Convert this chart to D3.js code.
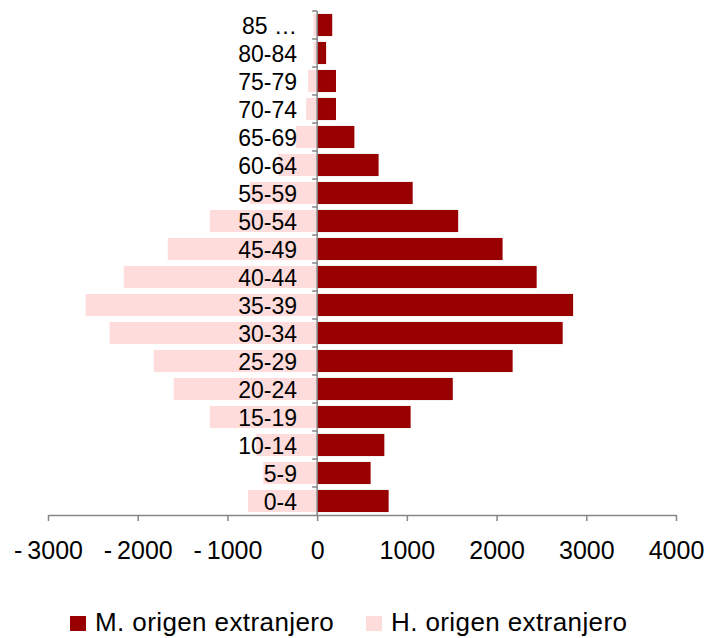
<!DOCTYPE html>
<html>
<head>
<meta charset="utf-8">
<script src="https://cdn.jsdelivr.net/npm/d3@7"></script>
<style>
  body { margin: 0; background: #fff; }
  text { font-family: "Liberation Sans", Arial, sans-serif; fill: #000; }
</style>
</head>
<body>
<div id="chart"></div>
<script>
// age groups, bottom to top
const ages = ["0-4", "5-9", "10-14", "15-19", "20-24", "25-29", "30-34", "35-39",
  "40-44", "45-49", "50-54", "55-59", "60-64", "65-69", "70-74", "75-79", "80-84", "85 …"];

// women of foreign origin (drawn to the right)
const mujeres = [797, 596, 749, 1042, 1512, 2179, 2737, 2853,
  2447, 2067, 1572, 1065, 685, 415, 210, 210, 100, 168];

// men of foreign origin (negative, drawn to the left)
const hombres = [-771, -600, -680, -1196, -1598, -1821, -2313, -2581,
  -2156, -1665, -1196, -750, -436, -235, -123, -100, -40, -40];

const xTicks = [-3000, -2000, -1000, 0, 1000, 2000, 3000, 4000];

const seriesNames = ["M. origen extranjero", "H. origen extranjero"];
const colors = ["#990000", "#ffdcdc"];

const width = 708;
const height = 638;

const svg = d3.select("#chart")
  .append("svg")
  .attr("width", width)
  .attr("height", height);

const x = d3.scaleLinear()
  .domain([-3000, 4000])
  .range([48, 676]);

const y = d3.scaleBand()
  .domain(ages)
  .range([515, 11])
  .paddingInner(0.21)
  .paddingOuter(0.105);

const step = y.step();
const gap = step - y.bandwidth();

// pink bars (men)
svg.append("g")
  .selectAll("rect")
  .data(ages)
  .join("rect")
  .attr("x", (d, i) => x(hombres[i]))
  .attr("y", (d) => y(d))
  .attr("width", (d, i) => x(0) - x(hombres[i]))
  .attr("height", y.bandwidth())
  .attr("fill", colors[1]);

// dark red bars (women)
svg.append("g")
  .selectAll("rect")
  .data(ages)
  .join("rect")
  .attr("x", x(0))
  .attr("y", (d) => y(d))
  .attr("width", (d, i) => x(mujeres[i]) - x(0))
  .attr("height", y.bandwidth())
  .attr("fill", colors[0]);

// category labels
svg.append("g")
  .selectAll("text")
  .data(ages)
  .join("text")
  .attr("x", 297)
  .attr("y", (d) => y(d) + y.bandwidth() / 2 + 8.5)
  .attr("text-anchor", "end")
  .style("font-size", "23px")
  .text((d) => d);

// vertical axis with ticks between bands
const axisColor = "#868686";
const yAxis = svg.append("g");
yAxis.append("line")
  .attr("x1", x(0)).attr("x2", x(0))
  .attr("y1", 11).attr("y2", 515)
  .attr("stroke", axisColor)
  .attr("stroke-width", 1.5);
yAxis.selectAll("line.tick")
  .data(ages)
  .join("line")
  .attr("class", "tick")
  .attr("x1", x(0) - 5).attr("x2", x(0))
  .attr("y1", (d) => y(d) - gap / 2)
  .attr("y2", (d) => y(d) - gap / 2)
  .attr("stroke", axisColor)
  .attr("stroke-width", 1.5);

// horizontal axis
const xAxis = svg.append("g")
  .attr("transform", "translate(0,515)")
  .call(d3.axisBottom(x).tickValues(xTicks).tickSizeInner(6).tickSizeOuter(0)
    .tickFormat((d) => d < 0 ? "-\u2009" + Math.abs(d) : d));
xAxis.select(".domain").attr("stroke", axisColor).attr("stroke-width", 1.5);
xAxis.selectAll(".tick line").attr("stroke", axisColor).attr("stroke-width", 1.5);
xAxis.selectAll(".tick text")
  .attr("y", 44)
  .attr("dy", 0)
  .style("font-size", "25px")
  .style("font-family", "'Liberation Sans', Arial, sans-serif")
  .attr("fill", "#000");

// legend
const legendX = [70, 366];
const legend = svg.append("g")
  .selectAll("g")
  .data(seriesNames)
  .join("g")
  .attr("transform", (d, i) => `translate(${legendX[i]},616)`);
legend.append("rect")
  .attr("width", 16)
  .attr("height", 15)
  .attr("fill", (d, i) => colors[i]);
legend.append("text")
  .attr("x", 25)
  .attr("y", 15)
  .style("font-size", "26px")
  .style("letter-spacing", "0.4px")
  .text((d) => d);
</script>
</body>
</html>
